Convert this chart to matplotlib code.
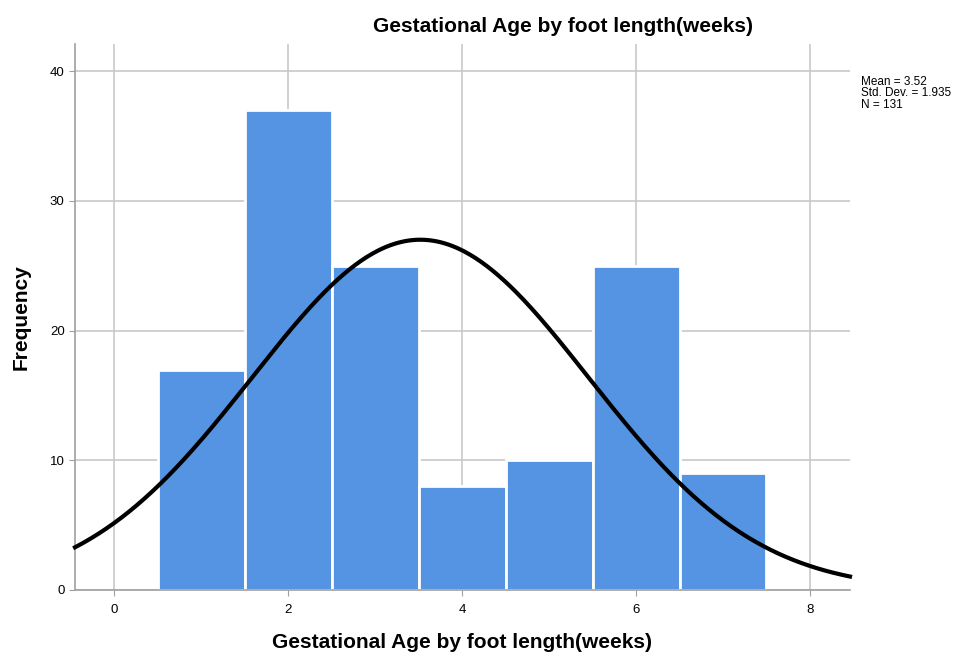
import numpy as np
import matplotlib.pyplot as plt

plt.rcParams['font.family'] = ['Liberation Sans', 'DejaVu Sans']

# histogram bins (weeks) and counts
bin_centers = [1, 2, 3, 4, 5, 6, 7]
counts = [17, 37, 25, 8, 10, 25, 9]
mean_val = 3.52
std_val = 1.935
n_val = 131

fig = plt.figure(figsize=(9.74, 6.54), dpi=100)
ax = fig.add_axes([75/974, 1 - 590/654, (850 - 75)/974, (590 - 44)/654])

ax.set_xlim(-0.45, 8.46)
ax.set_ylim(0, 42.1)

# grid
ax.set_xticks([0, 2, 4, 6, 8])
ax.set_yticks([0, 10, 20, 30, 40])
ax.grid(True, color='#c8c8c8', linewidth=1.2, zorder=0)
ax.set_axisbelow(True)

ax.bar(bin_centers, counts, width=1.0, color='#5594e3', edgecolor='white',
       linewidth=2, zorder=2)

# normal curve scaled to counts (bin width 1)
xs = np.linspace(-0.45, 8.46, 400)
ys = n_val * 1.0 / (std_val * np.sqrt(2 * np.pi)) * np.exp(-0.5 * ((xs - mean_val) / std_val) ** 2)
ax.plot(xs, ys, color='black', linewidth=3, zorder=3, clip_on=False)

for s in ['top', 'right']:
    ax.spines[s].set_visible(False)
for s in ['left', 'bottom']:
    ax.spines[s].set_color('#a0a0a0')
    ax.spines[s].set_linewidth(1.2)
ax.tick_params(axis='both', colors='#a0a0a0', labelcolor='black', labelsize=9.5, length=4)
ax.tick_params(axis='x', pad=6)

ax.set_xlabel('Gestational Age by foot length(weeks)', fontsize=15, fontweight='bold')
ax.xaxis.set_label_coords(0.5, -(652 - 590) / 546)
ax.xaxis.label.set_va('bottom')
ax.set_ylabel('Frequency', fontsize=15, fontweight='bold')
ax.yaxis.set_label_coords(-(75 - 12) / 775, 0.5)
ax.yaxis.label.set_va('top')

fig.text(563/974, 1 - 27/654, 'Gestational Age by foot length(weeks)', fontsize=15,
         fontweight='bold', ha='center', va='center')

stats_lines = ['Mean = %.2f' % mean_val, 'Std. Dev. = %.3f' % std_val, 'N = %d' % n_val]
for i, line in enumerate(stats_lines):
    fig.text(861/974, 1 - (85 + 11.5 * i)/654, line, fontsize=8.5, ha='left', va='baseline')

fig.savefig('out.png', dpi=100)
